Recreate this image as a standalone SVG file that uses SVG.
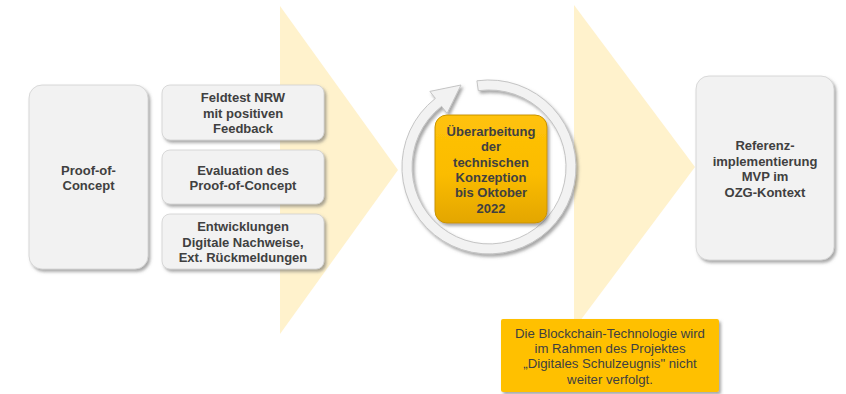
<svg xmlns="http://www.w3.org/2000/svg" width="846" height="394" viewBox="0 0 846 394">
<defs>
<filter id="sh" x="-20%" y="-20%" width="140%" height="140%">
<feDropShadow dx="2" dy="2.5" stdDeviation="1.6" flood-color="#606060" flood-opacity="0.55"/>
</filter>
<linearGradient id="og" x1="0" y1="0" x2="0" y2="1">
<stop offset="0" stop-color="#ffc20a"/>
<stop offset="0.55" stop-color="#fbbc00"/>
<stop offset="1" stop-color="#e3a600"/>
</linearGradient>
</defs>
<style>
.chev{fill:#fff2cc}
.gbox{fill:#f2f2f2;stroke:#d0d0d0;stroke-width:0.8;filter:url(#sh)}
.t{font-family:"Liberation Sans",Arial,sans-serif;font-size:13px;font-weight:bold;fill:#404040;text-anchor:middle}
.tn{font-family:"Liberation Sans",Arial,sans-serif;font-size:13.2px;fill:#404040;text-anchor:middle}
</style>
<rect width="846" height="394" fill="#ffffff"/>
<g id="chevrons">
<polygon class="chev" points="280,6 398,170 280,334"/>
<polygon class="chev" points="574,5 695,167 574,329"/>
</g>
<g id="proof-of-concept">
<rect class="gbox" x="29" y="85" width="119" height="184" rx="13"/>
<text class="t" x="88.5" y="174.5">Proof-of-</text>
<text class="t" x="88.5" y="190">Concept</text>
</g>
<g id="feldtest">
<rect class="gbox" x="162" y="85" width="162" height="55" rx="8"/>
<text class="t" x="243" y="102">Feldtest NRW</text>
<text class="t" x="243" y="117.5">mit positiven</text>
<text class="t" x="243" y="133">Feedback</text>
</g>
<g id="evaluation">
<rect class="gbox" x="162" y="150" width="162" height="54" rx="8"/>
<text class="t" x="243" y="174.5">Evaluation des</text>
<text class="t" x="243" y="190">Proof-of-Concept</text>
</g>
<g id="entwicklungen">
<rect class="gbox" x="162" y="214" width="162" height="55" rx="8"/>
<text class="t" x="243" y="231">Entwicklungen</text>
<text class="t" x="243" y="246.5">Digitale Nachweise,</text>
<text class="t" x="243" y="262">Ext. Rückmeldungen</text>
</g>
<g id="cycle">
<path d="M476.9,80.8 A87,87 0 1 1 435.4,98.4 L429.9,91.4 L461,85 L447.1,113.4 L441.6,106.3 A77,77 0 1 0 478.3,90.7 Z" fill="#f2f2f2" stroke="#c4c4c4" stroke-width="1" filter="url(#sh)"/>
</g>
<g id="ueberarbeitung">
<rect x="435" y="115" width="112" height="108" rx="12" fill="url(#og)" stroke="#c89400" stroke-width="1" filter="url(#sh)"/>
<text class="t" x="491" y="136">Überarbeitung</text>
<text class="t" x="491" y="151">der</text>
<text class="t" x="491" y="166.5">technischen</text>
<text class="t" x="491" y="182">Konzeption</text>
<text class="t" x="491" y="197">bis Oktober</text>
<text class="t" x="491" y="212.5">2022</text>
</g>
<g id="referenz">
<rect class="gbox" x="696" y="76" width="138" height="184" rx="13"/>
<text class="t" x="765" y="150">Referenz-</text>
<text class="t" x="765" y="165.5">implementierung</text>
<text class="t" x="765" y="181">MVP im</text>
<text class="t" x="765" y="196.5">OZG-Kontext</text>
</g>
<g id="hinweis">
<rect x="501" y="319" width="218" height="73" rx="2" fill="#ffc000" filter="url(#sh)"/>
<text class="tn" x="610" y="337.5">Die Blockchain-Technologie wird</text>
<text class="tn" x="610" y="353">im Rahmen des Projektes</text>
<text class="tn" x="610" y="368">„Digitales Schulzeugnis" nicht</text>
<text class="tn" x="610" y="383.5">weiter verfolgt.</text>
</g>
</svg>
